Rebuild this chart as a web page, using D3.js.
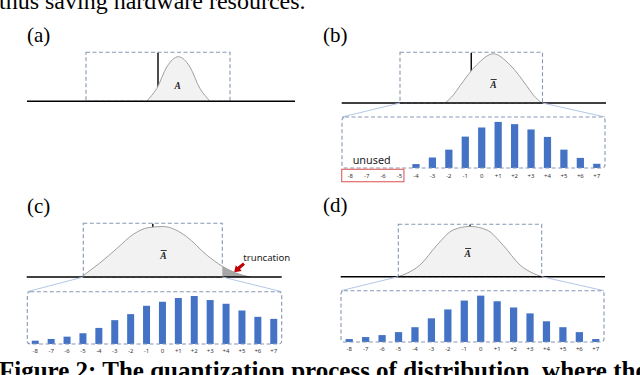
<!DOCTYPE html>
<html>
<head>
<meta charset="utf-8">
<script src="https://cdn.jsdelivr.net/npm/d3@7"></script>
<style>
  html, body { margin: 0; padding: 0; background: #fff; overflow: hidden; }
</style>
</head>
<body>
<div id="container"></div>
<script>
// quantization levels (4-bit)
const levels = ["-8","-7","-6","-5","-4","-3","-2","-1","0","+1","+2","+3","+4","+5","+6","+7"];

// bar heights (arbitrary units, box height ~52)
const barsB = [0, 0, 0, 0, 4, 10.7, 18.7, 32, 41.3, 47, 44.7, 39.3, 31.7, 18.7, 10.3, 4.3];
const barsC = [3.3, 5, 7.3, 10.7, 16, 23.7, 29.7, 38, 42, 45.7, 47.7, 43.7, 40, 33.3, 27, 25];
const barsD = [3, 5, 7, 10, 15, 24, 33, 42, 47, 41.3, 35, 29, 21, 15, 10, 3];

// distribution outlines, [level, density] with box range = [-8, 8]
const curveA = [[-1.26,0],[-0.7,0.12],[-0.14,0.26],[0.97,0.7],[2.26,0.91],[3.55,0.7],[4.66,0.26],[5.22,0.12],[5.78,0]];
const curveB = [[-2.94,0],[-2,0.16],[-1.26,0.34],[0.6,0.75],[2.48,0.97],[4.36,0.75],[6.22,0.34],[6.96,0.16],[7.9,0]];
const curveC = [[-8.2,0],[-7,0.15],[-6.1,0.26],[-4.15,0.53],[-2.2,0.8],[-0.5,0.92],[1.2,0.94],[2.6,0.88],[3.9,0.75],[6.2,0.41],[8,0.2],[10,0.05],[11.2,0]];
const curveD = [[-8,0],[-7.1,0.06],[-5.6,0.22],[-3.7,0.6],[-1.9,0.89],[0,0.96],[1.9,0.89],[3.7,0.6],[5.6,0.22],[7.1,0.06],[8,0]];

const topText = "thus saving hardware resources.";
const caption = "Figure 2: The quantization process of distribution, where the";

const width = 640;
const height = 375;
const serif = "'Liberation Serif', 'Times New Roman', serif";
const sans = "'Noto Sans', 'Open Sans', sans-serif";

// layout: box = [left, right, top, bottom], bars = [left, right, top, bottom]
const panels = [
  { label: "(a)", lx: 27, ly: 42, box: [86, 230, 52.3, 101.3], base: [27, 295], curve: curveA, bar: false, ax: 177.7, ay: 89 },
  { label: "(b)", lx: 323, ly: 42, box: [400, 542.5, 52.3, 103], base: [341.7, 606], curve: curveB, bar: true, ax: 493.3, ay: 87.5,
    bars: [342, 605, 117, 168], values: barsB, labelY: 177, unused: true },
  { label: "(c)", lx: 27, ly: 213, box: [83.3, 222.3, 223.3, 277], base: [26.7, 281.7], curve: curveC, bar: true, ax: 163.3, ay: 258.5,
    bars: [27.3, 281.7, 291.7, 344], values: barsC, labelY: 351.7, truncate: true },
  { label: "(d)", lx: 323, ly: 212, box: [398.3, 541.7, 224.3, 276.7], base: [340.7, 605], curve: curveD, bar: true, ax: 467.7, ay: 256.5,
    bars: [341, 604, 290.7, 342], values: barsD, labelY: 350 }
];

const svg = d3.create("svg")
  .attr("width", width)
  .attr("height", height)
  .style("display", "block");

svg.append("rect").attr("width", width).attr("height", height).attr("fill", "#fff");

svg.append("text")
  .attr("x", -1).attr("y", 8.5)
  .attr("font-family", serif).attr("font-size", 24)
  .text(topText);

svg.append("text")
  .attr("x", -1).attr("y", 378.5)
  .attr("font-family", serif).attr("font-size", 25).attr("font-weight", "bold")
  .text(caption);

const drawTop = (p, i) => {
  const [bl, br, bt, bb] = p.box;
  const x = d3.scaleLinear().domain([-8, 8]).range([bl, br]);
  const y = d3.scaleLinear().domain([0, 1]).range([bb, bt]);
  const g = svg.append("g");

  g.append("text")
    .attr("x", p.lx).attr("y", p.ly)
    .attr("font-family", serif).attr("font-size", 21)
    .text(p.label);

  g.append("rect")
    .attr("x", bl).attr("y", bt)
    .attr("width", br - bl).attr("height", bb - bt)
    .attr("fill", "none")
    .attr("stroke", "#8797b2")
    .attr("stroke-width", 1.1)
    .attr("stroke-dasharray", "4,2.5");

  g.append("line")
    .attr("x1", x(0)).attr("x2", x(0))
    .attr("y1", bt + 0.5).attr("y2", bb)
    .attr("stroke", "#000").attr("stroke-width", 1.4);

  const area = d3.area()
    .x(d => x(d[0])).y0(y(0)).y1(d => y(d[1]))
    .curve(d3.curveMonotoneX);
  const line = d3.line()
    .x(d => x(d[0])).y(d => y(d[1]))
    .curve(d3.curveMonotoneX);

  g.append("path").datum(p.curve).attr("d", area).attr("fill", "#f2f2f2");

  if (p.truncate) {
    const cid = "clip" + i;
    svg.append("clipPath").attr("id", cid)
      .append("rect")
      .attr("x", x(8)).attr("y", bt - 5)
      .attr("width", 80).attr("height", bb - bt + 10);
    g.append("path").datum(p.curve).attr("d", area)
      .attr("fill", "#a6a6a6")
      .attr("clip-path", `url(#${cid})`);

    g.append("text")
      .attr("x", 243.3).attr("y", 261)
      .attr("font-family", sans).attr("font-size", 9.6)
      .attr("fill", "#222")
      .text("truncation");

    // little red block arrow pointing at the cut tail
    const ax = 243, ay = 262.5;
    g.append("path")
      .attr("d", `M${ax},${ay} l2,2.2 l-5,4.4 l1.6,1.8 l-7.4,1.4 l1.6,-7 l1.6,1.8 z`)
      .attr("fill", "#c00000");
  }

  g.append("path").datum(p.curve).attr("d", line)
    .attr("fill", "none").attr("stroke", "#a0a0a0").attr("stroke-width", 1);

  g.append("line")
    .attr("x1", p.base[0]).attr("x2", p.base[1])
    .attr("y1", bb).attr("y2", bb)
    .attr("stroke", "#000").attr("stroke-width", 1.5);

  // mean symbol
  g.append("text")
    .attr("x", p.ax).attr("y", p.ay)
    .attr("text-anchor", "middle")
    .attr("font-family", serif).attr("font-size", 9.5)
    .attr("font-weight", "bold").attr("font-style", "italic")
    .attr("fill", "#222")
    .text("A");
  if (p.bar) {
    g.append("line")
      .attr("x1", p.ax - 2.6).attr("x2", p.ax + 3.4)
      .attr("y1", p.ay - 8).attr("y2", p.ay - 8)
      .attr("stroke", "#222").attr("stroke-width", 0.9);
  }
};

const drawBars = (p) => {
  const [xl, xr, yt, yb] = p.bars;
  const g = svg.append("g");
  const x = d3.scaleBand().domain(levels).range([xl, xr]).paddingInner(0.56).paddingOuter(0.28);
  const y = d3.scaleLinear().domain([0, 52]).range([yb, yt]);

  // zoom-in connectors
  g.append("line")
    .attr("x1", p.box[0]).attr("y1", p.box[3]).attr("x2", xl).attr("y2", yt)
    .attr("stroke", "#b4c7e7").attr("stroke-width", 1);
  g.append("line")
    .attr("x1", p.box[1]).attr("y1", p.box[3]).attr("x2", xr).attr("y2", yt)
    .attr("stroke", "#b4c7e7").attr("stroke-width", 1);

  g.selectAll("rect.bar")
    .data(levels.map((l, i) => [l, p.values[i]]).filter(d => d[1] > 0))
    .join("rect")
    .attr("class", "bar")
    .attr("x", d => x(d[0]))
    .attr("y", d => y(d[1]))
    .attr("width", x.bandwidth())
    .attr("height", d => yb - y(d[1]))
    .attr("fill", "#4472c4");

  g.append("rect")
    .attr("x", xl).attr("y", yt)
    .attr("width", xr - xl).attr("height", yb - yt)
    .attr("rx", 3)
    .attr("fill", "none")
    .attr("stroke", "#8797b2")
    .attr("stroke-width", 1.1)
    .attr("stroke-dasharray", "4,2.5");

  const axis = g.append("g")
    .attr("transform", `translate(0,${p.labelY - 3})`)
    .call(d3.axisBottom(x).tickSize(0).tickPadding(0));
  axis.select(".domain").remove();
  axis.selectAll("text")
    .attr("font-family", sans)
    .attr("font-size", 6)
    .attr("fill", "#333");

  if (p.unused) {
    const step = x.step();
    g.append("rect")
      .attr("x", xl - 0.3).attr("y", yb + 1.3)
      .attr("width", step * 4 - 3.5).attr("height", 12.4)
      .attr("fill", "none")
      .attr("stroke", "#e06c6c").attr("stroke-width", 1.2);
    g.append("text")
      .attr("x", 352.7).attr("y", 164)
      .attr("font-family", sans).attr("font-size", 10.8)
      .attr("fill", "#222")
      .text("unused");
  }
};

panels.forEach((p, i) => {
  drawTop(p, i);
  if (p.bar) drawBars(p);
});

container.append(svg.node());
</script>
</body>
</html>
